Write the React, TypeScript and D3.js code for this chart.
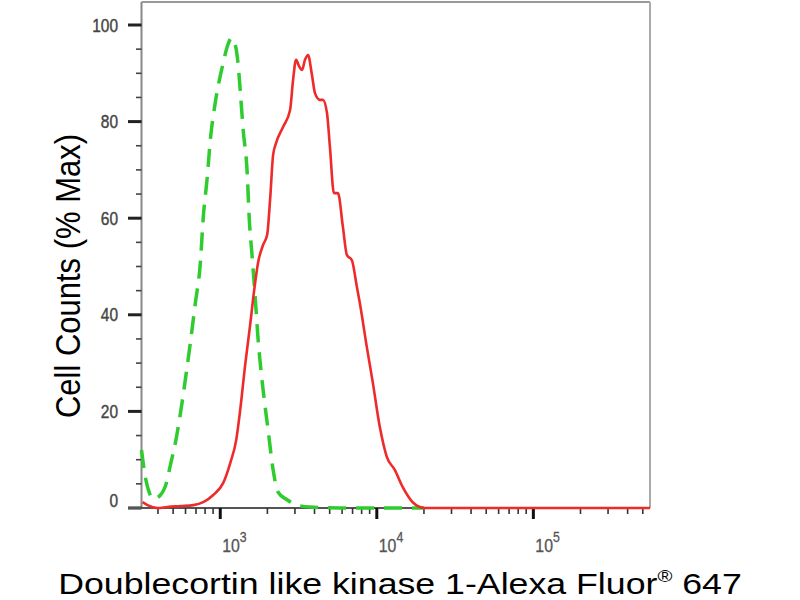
import React from "react";
import * as d3 from "d3";

// ---- data ----
const isotypeX = [314, 333, 353, 374, 415, 453, 481, 517, 556, 598, 644, 693, 746, 779, 826, 864, 929, 1030, 1124, 1175, 1246, 1302, 1341, 1401, 1486, 1530, 1599, 1671, 1746, 1879, 2022, 2176, 2340, 2672, 3092, 3741, 5808, 10000, 20000];
const isotypeY = [12.0, 6.2, 3.1, 1.9, 2.7, 5.2, 9.0, 13.5, 19.5, 26.5, 34.2, 42.4, 50.7, 60.2, 68.5, 76.2, 83.9, 91.3, 96.1, 97.3, 95.9, 91.7, 86.5, 78.3, 69.4, 60.2, 52.0, 43.7, 34.8, 24.4, 16.1, 7.9, 3.3, 1.7, 0.6, 0.2, 0, 0, 0];

const sampleX = [319, 343, 397, 459, 556, 673, 779, 902, 1045, 1158, 1265, 1341, 1442, 1552, 1647, 1746, 1879, 1992, 2081, 2176, 2274, 2519, 2792, 2918, 3050, 3187, 3329, 3478, 3635, 3855, 4027, 4335, 4529, 4804, 5019, 5323, 5646, 6072, 6440, 6930, 7458, 7795, 8636, 9435, 10450, 11580, 13030, 14650, 16950, 20220, 60000, 556000];
const sampleY = [1.2, 0.6, 0, 0.2, 0.4, 0.6, 1.2, 2.7, 5.2, 9.3, 14.1, 20.3, 29.6, 37.9, 45.1, 50.9, 54.5, 56.5, 63.8, 73.1, 75.6, 78.9, 82.4, 88.6, 92.8, 91.5, 90.7, 92.8, 93.8, 89.6, 85.9, 84.5, 84.5, 81.8, 74.7, 65.2, 65.2, 58.2, 52.4, 51.3, 45.8, 42.4, 33.3, 25.9, 16.8, 10.6, 7.9, 4.3, 1.2, 0, 0, 0];

const yTicks = [0, 20, 40, 60, 80, 100];
const yMinorTicks = [5, 10, 15, 25, 30, 35, 45, 50, 55, 65, 70, 75, 85, 90, 95];
const xMajorTicks = [1e3, 1e4, 1e5];
const xTickExponents = ["3", "4", "5"];
const xDomain = [314, 556000];

const yTitle = "Cell Counts (% Max)";
const xTitleMain = "Doublecortin like kinase 1-Alexa Fluor";
const xTitleTail = " 647";

export default function App() {
  const left = 141.5, right = 650, top = 2, bottom = 508;
  const x = d3.scaleLog().domain(xDomain).range([left, right]);
  const y = d3.scaleLinear().domain([0, 100]).range([bottom, 25]);

  const xMinor: number[] = [];
  [100, 1000, 10000, 100000].forEach((d) => {
    for (let m = 2; m <= 9; m++) {
      const v = d * m;
      if (v >= xDomain[0] && v <= xDomain[1]) xMinor.push(v);
    }
  });

  const line = d3
    .line<[number, number]>()
    .x((d) => x(d[0]))
    .y((d) => y(d[1]))
    .curve(d3.curveMonotoneX);

  const iso = line(isotypeX.map((v, i) => [v, isotypeY[i]] as [number, number])) || "";
  const smp = line(sampleX.map((v, i) => [v, sampleY[i]] as [number, number])) || "";

  const font = "Arial, 'Liberation Sans', sans-serif";

  return (
    <svg
      width={800}
      height={600}
      style={{ position: "absolute", left: 0, top: 0, background: "#fff" }}
      fontFamily={font}
    >
      <rect x={0} y={0} width={800} height={600} fill="#fff" />
      {/* frame */}
      <line x1={left} x2={right} y1={top} y2={top} stroke="#999" strokeWidth={2} />
      <line x1={right} x2={right} y1={top} y2={bottom} stroke="#aaa" strokeWidth={2} />
      <line x1={left} x2={left} y1={top} y2={bottom} stroke="#888" strokeWidth={2} />

      {/* y ticks */}
      {yMinorTicks.map((t) => (
        <line key={"ym" + t} x1={136} x2={left} y1={y(t)} y2={y(t)} stroke="#444" strokeWidth={1.6} />
      ))}
      {yTicks.map((t) => (
        <g key={"y" + t}>
          <line x1={128} x2={left} y1={y(t)} y2={y(t)} stroke="#222" strokeWidth={3} />
          <text
            transform={`translate(118,${y(t) + (t === 0 ? -1 : 6.5)}) scale(0.86,1)`}
            textAnchor="end"
            fontSize={18}
            fill="#444"
            stroke="#444"
            strokeWidth={0.4}
          >
            {t}
          </text>
        </g>
      ))}

      {/* x axis */}
      <line x1={128} x2={right} y1={bottom} y2={bottom} stroke="#555" strokeWidth={2} />
      {xMinor.map((t) => (
        <line key={"xm" + t} x1={x(t)} x2={x(t)} y1={bottom} y2={bottom + 6} stroke="#333" strokeWidth={1.6} />
      ))}
      {xMajorTicks.map((t, i) => (
        <g key={"x" + t}>
          <line x1={x(t)} x2={x(t)} y1={bottom} y2={bottom + 11} stroke="#111" strokeWidth={3} />
          <text
            transform={`translate(${x(t) + 2},552) scale(0.88,1)`}
            fontSize={18}
            fill="#555"
            stroke="#555"
            strokeWidth={0.3}
          >
            10
            <tspan fontSize={14} dy={-10}>
              {xTickExponents[i]}
            </tspan>
          </text>
        </g>
      ))}

      {/* curves */}
      <path d={iso} fill="none" stroke="#2ecc2e" strokeWidth={3.5} strokeDasharray="18,10" />
      <path d={smp} fill="none" stroke="#ee2a2a" strokeWidth={2.6} strokeLinejoin="round" />

      {/* titles */}
      <text transform="translate(68,276) scale(1.15,1) rotate(-90)" textAnchor="middle" dominantBaseline="central" fontSize={31} fill="#000">
        {yTitle}
      </text>
      <text transform="translate(400,594) scale(1.19,1)" textAnchor="middle" fontSize={30} fill="#000">
        {xTitleMain}
        <tspan fontSize={17} dy={-12}>®</tspan>
        <tspan dy={12}>{xTitleTail}</tspan>
      </text>
    </svg>
  );
}
